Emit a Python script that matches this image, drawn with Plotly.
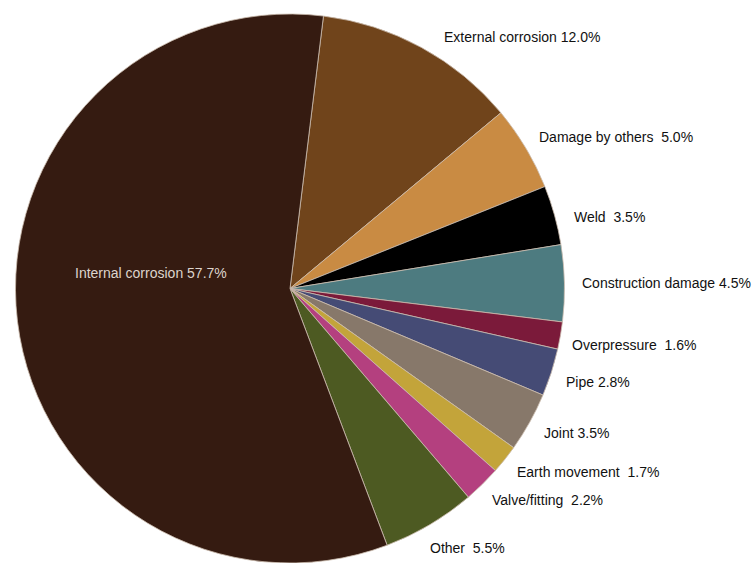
import plotly.graph_objects as go

labels = ["External corrosion", "Damage by others", "Weld", "Construction damage",
          "Overpressure", "Pipe", "Joint", "Earth movement", "Valve/fitting",
          "Other", "Internal corrosion"]
values = [12.0, 5.0, 3.5, 4.5, 1.6, 2.8, 3.5, 1.7, 2.2, 5.5, 57.7]
colors = ["#70441b", "#c98b43", "#000000", "#4d7b80", "#7b1a3a", "#454b75",
          "#87786a", "#c3a43a", "#b4407f", "#4d5a22", "#351b11"]
# spacing between name and value as in the reference
seps = [" ", "  ", "  ", " ", "  ", " ", " ", "  ", "  ", "  ", " "]

# label anchor positions (paper px, left edge x, center y from top)
label_pos = [(442, 37), (537, 137), (572, 217), (580, 283), (570, 345),
             (564, 382), (542, 433), (515, 472), (490, 500), (428, 548), (73, 273)]

W, H = 753, 563

fig = go.Figure(go.Pie(
    labels=labels, values=values, sort=False, direction="clockwise",
    rotation=7, textinfo="none", hoverinfo="label+percent",
    marker=dict(colors=colors, line=dict(color="#cbbcae", width=0.8)),
    domain=dict(x=[15 / W, 565 / W], y=[0, 549 / H]),
    showlegend=False,
))

font_family = "Liberation Sans Narrow, Arial Narrow, Liberation Sans, Arial, sans-serif"
for i, (lab, val) in enumerate(zip(labels, values)):
    x, y = label_pos[i]
    txt = f"{lab}{seps[i]}{val:.1f}%".replace("  ", "\u00a0 ")
    color = "#ddd4cc" if lab == "Internal corrosion" else "#111111"
    fig.add_annotation(x=x / W, y=1 - y / H, xref="paper", yref="paper",
                       xanchor="left", yanchor="middle", showarrow=False,
                       text=txt, font=dict(family=font_family, size=14, color=color))

fig.update_layout(width=W, height=H, margin=dict(l=0, r=0, t=0, b=0),
                  paper_bgcolor="white", plot_bgcolor="white")
fig.write_html("out.html")
